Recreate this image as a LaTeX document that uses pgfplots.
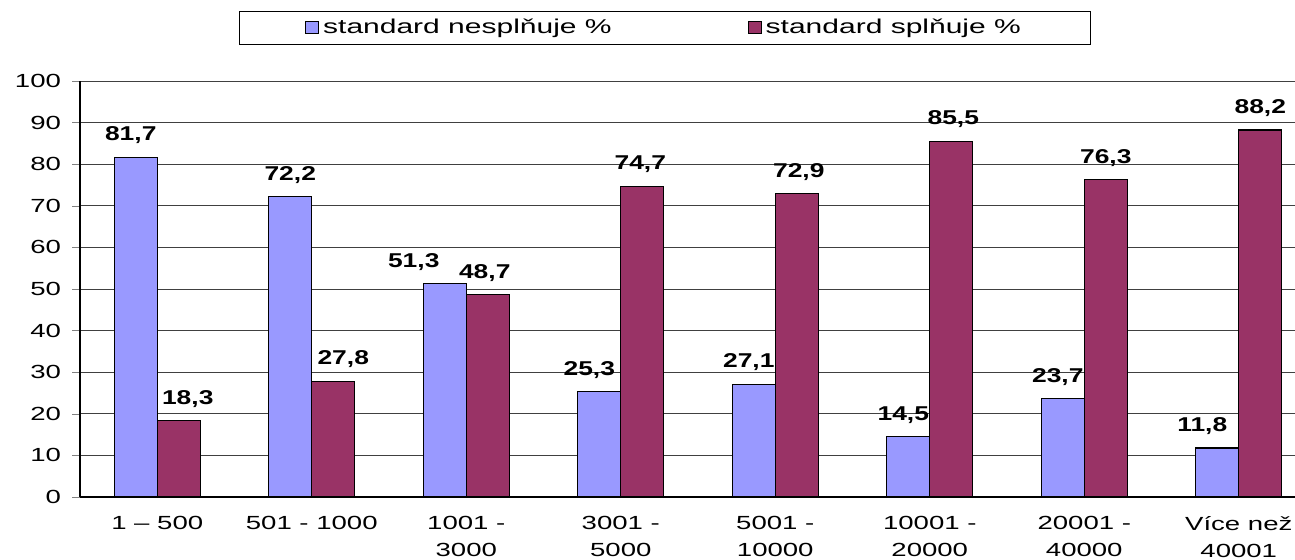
\documentclass[border=0pt]{standalone}
\usepackage{fontspec}
\setmainfont{Liberation Sans}
\newfontfamily\widefont[FakeStretch=1.45]{Liberation Sans}
\newfontfamily\legfont[FakeStretch=1.5]{Liberation Sans}
\newfontfamily\widebold[FakeStretch=1.32]{Liberation Sans Bold}
\usepackage{pgfplots}
\usepackage{pgfplotstable}
\pgfplotsset{compat=1.18}
\definecolor{cblue}{HTML}{9999FF}
\definecolor{cmaroon}{HTML}{993366}
\pgfplotstableread{
x  y     dx
0  81.7  -2.5
1  72.2  0
2  51.3  -15.5
3  25.3  -5
4  27.1  -2.5
5  14.5  -2.5
6  23.7  -2.5
7  11.8  -7.5
}\nesplnuje
\pgfplotstableread{
x  y     dx
0  18.3  4.5
1  27.8  5
2  48.7  -1.5
3  74.7  -1
4  72.9  1
5  85.5  1
6  76.3  0
7  88.2  0
}\splnuje
\begin{document}
\begin{tikzpicture}
\begin{axis}[
  name=ax,
  scale only axis,
  width=607.5pt, height=208pt,
  ybar=0pt, bar width=21.5pt,
  xmin=-0.5, xmax=7.364,
  ymin=0, ymax=100,
  ytick={0,10,...,100},
  xtick={0,...,7},
  xticklabels={{1 – 500},{501 - 1000},{1001 -\\3000},{3001 -\\5000},{5001 -\\10000},{10001 -\\20000},{20001 -\\40000},{Více než\\40001}},
  x tick label style={align=center, font=\widefont\fontsize{9.5}{13.5}\selectfont, yshift=-2pt},
  y tick label style={font=\widefont\fontsize{9.5}{11}\selectfont, xshift=-2pt},
  major x tick style={draw=none},
  extra x ticks={-0.5,0.5,1.5,2.5,3.5,4.5,5.5,6.5},
  extra x tick labels={},
  extra x tick style={major tick length=4pt, tick align=outside, major tick style={draw=black}},
  tick align=outside,
  major tick length=4pt,
  axis x line*=bottom,
  axis y line*=left,
  axis line style={line width=0.6pt},
  ymajorgrids,
  grid style={black!75, line width=0.4pt},
  /pgf/number format/assume math mode=true,
  visualization depends on={\thisrow{dx} \as \dx},
  nodes near coords,
  nodes near coords style={font=\widebold\fontsize{10}{12}\selectfont, yshift=3pt, xshift=\dx pt,
     /pgf/number format/.cd, use comma, fixed, fixed zerofill, precision=1},
  legend columns=2,
  legend style={at={(0.4815,1.1274)}, anchor=center, draw=black, line width=0.6pt,
     font=\legfont\fontsize{10}{11.5}\selectfont, inner xsep=33pt, inner ysep=2pt,
     /tikz/every even column/.append style={column sep=66pt}},
  legend image code/.code={\draw[#1,draw=black,line width=0.5pt] (0pt,-3pt) rectangle (6.5pt,3pt);},
  clip=false,
]
\addplot[fill=cblue, draw=black, line width=0.6pt] table[x=x, y=y] {\nesplnuje};
\addplot[fill=cmaroon, draw=black, line width=0.6pt] table[x=x, y=y] {\splnuje};
\legend{standard nesplňuje \%, standard splňuje \%}
\end{axis}
\pgfresetboundingbox
\path ([xshift=-40pt,yshift=-31.5pt]ax.south west) rectangle ([yshift=40.5pt]ax.north east);
\end{tikzpicture}
\end{document}
